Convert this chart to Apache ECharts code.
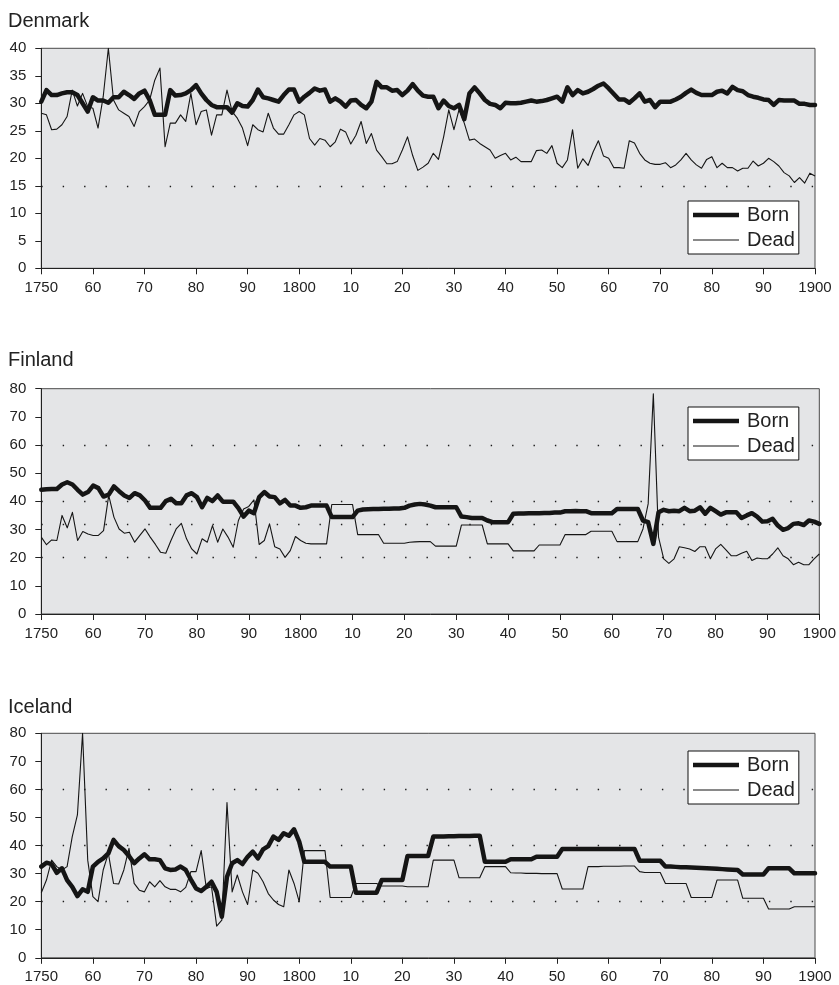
<!DOCTYPE html>
<html>
<head>
<meta charset="utf-8">
<script src="https://cdn.jsdelivr.net/npm/echarts@6/dist/echarts.min.js"></script>
<style>
  html, body { margin: 0; padding: 0; background: #ffffff; }
  #chart { width: 839px; height: 985px; }
</style>
</head>
<body>
<div id="chart"></div>
<script>
// Crude birth and death rates per 1000 inhabitants, yearly, 1750-1900
const firstYear = 1750;
const lastYear = 1900;

const countries = ['Denmark', 'Finland', 'Iceland'];
const seriesNames = ['Born', 'Dead'];

const denmarkBorn = [
  30.3, 32.4, 31.5, 31.5, 31.8, 32.0, 32.0, 31.5, 30.0, 28.5,
  31.1, 30.5, 30.5, 30.1, 31.1, 31.1, 32.1, 31.5, 30.8, 31.8,
  32.3, 30.6, 27.9, 27.9, 27.9, 32.4, 31.4, 31.5, 31.8, 32.4,
  33.3, 31.8, 30.6, 29.7, 29.3, 29.3, 29.3, 28.3, 30.0, 29.5,
  29.4, 30.6, 32.5, 31.1, 30.9, 30.6, 30.3, 31.5, 32.5, 32.5,
  30.3, 31.2, 31.9, 32.7, 32.3, 32.5, 30.3, 30.9, 30.3, 29.4,
  30.5, 30.6, 29.7, 29.1, 30.3, 33.9, 32.9, 32.9, 32.3, 32.4,
  31.5, 32.3, 33.5, 32.3, 31.4, 31.2, 31.2, 29.1, 30.5, 29.5,
  29.1, 29.7, 27.1, 31.8, 32.9, 31.8, 30.6, 29.9, 29.7, 29.1,
  30.1, 30.0, 30.0, 30.1, 30.3, 30.5, 30.3, 30.4, 30.6, 30.9,
  31.2, 30.3, 32.9, 31.5, 32.4, 31.8, 32.1, 32.6, 33.2, 33.6,
  32.7, 31.7, 30.7, 30.7, 30.1, 30.9, 31.8, 30.3, 30.6, 29.3,
  30.3, 30.3, 30.3, 30.7, 31.2, 31.9, 32.5, 31.9, 31.5, 31.5,
  31.5, 32.1, 32.3, 31.8, 33.0, 32.4, 32.2, 31.5, 31.2, 31.0,
  30.7, 30.6, 29.7, 30.6, 30.5, 30.5, 30.5, 29.9, 29.9, 29.7,
  29.7
];
const denmarkDead = [
  28.2, 27.9, 25.2, 25.3, 26.1, 27.6, 32.4, 29.5, 31.8, 29.4,
  29.1, 25.5, 31.2, 40.0, 30.6, 28.8, 28.2, 27.6, 25.8, 28.5,
  29.4, 30.6, 34.2, 36.4, 22.1, 26.4, 26.4, 27.9, 26.7, 31.8,
  26.1, 28.5, 28.8, 24.2, 27.9, 27.9, 32.4, 28.5, 27.3, 25.5,
  22.3, 26.1, 25.2, 24.8, 28.2, 25.5, 24.4, 24.4, 26.1, 27.9,
  28.5, 27.9, 23.6, 22.4, 23.6, 23.3, 22.1, 23.0, 25.3, 24.8,
  22.6, 24.2, 26.7, 22.7, 24.5, 21.5, 20.3, 19.0, 19.0, 19.4,
  21.5, 23.9, 20.5, 17.8, 18.4, 19.1, 20.9, 19.8, 23.9, 28.8,
  25.2, 28.9, 26.4, 23.3, 23.5, 22.7, 22.1, 21.5, 20.0, 20.5,
  20.9, 19.7, 20.2, 19.4, 19.4, 19.4, 21.4, 21.5, 20.9, 22.3,
  19.1, 18.3, 19.7, 25.2, 18.2, 19.9, 18.7, 21.2, 23.2, 20.4,
  20.0, 18.3, 18.3, 18.2, 23.2, 22.8, 20.9, 19.7, 19.1, 18.9,
  18.9, 19.2, 18.3, 18.8, 19.7, 20.9, 19.7, 18.8, 18.2, 19.8,
  20.3, 18.3, 19.1, 18.3, 18.3, 17.7, 18.2, 18.2, 19.5, 18.6,
  19.1, 20.0, 19.4, 18.6, 17.4, 16.8, 15.6, 16.5, 15.5, 17.3,
  16.8
];

const finlandBorn = [
  44.1, 44.3, 44.4, 44.4, 46.0, 46.8, 46.0, 44.1, 42.4, 43.3,
  45.6, 44.7, 41.7, 42.4, 45.3, 43.6, 42.1, 41.2, 42.9, 42.1,
  40.3, 37.7, 37.7, 37.7, 40.1, 40.9, 39.3, 39.3, 42.1, 42.9,
  41.5, 37.9, 41.2, 40.1, 42.1, 39.9, 39.9, 39.9, 37.6, 34.6,
  36.7, 35.8, 41.5, 43.3, 41.7, 41.5, 39.3, 40.5, 38.5, 38.5,
  37.7, 37.9, 38.5, 38.5, 38.5, 38.5, 34.4, 34.4, 34.4, 34.4,
  34.4, 36.7, 37.1, 37.2, 37.3, 37.3, 37.4, 37.4, 37.5, 37.5,
  37.7, 38.5, 38.9, 39.1, 38.9, 38.5, 37.9, 37.9, 37.9, 37.9,
  37.9, 34.6, 34.4, 34.1, 34.1, 34.1, 33.2, 32.6, 32.6, 32.6,
  32.6, 35.6, 35.7, 35.7, 35.8, 35.8, 35.8, 35.9, 35.9, 36.0,
  36.0, 36.5, 36.5, 36.6, 36.5, 36.5, 35.8, 35.8, 35.8, 35.8,
  35.8, 37.3, 37.3, 37.3, 37.3, 37.3, 33.2, 32.6, 24.9, 36.1,
  37.0, 36.5, 36.7, 36.5, 37.7, 36.5, 36.7, 37.9, 35.6, 37.7,
  36.5, 35.3, 36.1, 36.1, 36.1, 34.1, 35.0, 35.8, 34.6, 32.8,
  32.9, 33.8, 31.4, 29.9, 30.5, 32.0, 32.2, 31.6, 33.2, 32.8,
  32.0
];
const finlandDead = [
  27.3, 24.6, 26.3, 26.1, 35.0, 30.6, 36.1, 26.1, 29.3, 28.4,
  27.9, 27.9, 29.6, 42.1, 34.4, 30.2, 28.7, 29.0, 25.5, 27.9,
  30.2, 27.3, 24.7, 21.9, 21.6, 26.1, 30.2, 32.2, 26.7, 23.1,
  21.3, 26.7, 25.5, 31.4, 25.5, 30.2, 27.3, 23.7, 33.2, 37.3,
  38.2, 40.5, 24.7, 26.1, 32.0, 23.9, 23.1, 20.1, 22.5, 27.5,
  26.1, 25.1, 24.9, 24.9, 24.9, 24.9, 38.9, 38.9, 38.9, 38.9,
  38.9, 28.2, 28.2, 28.2, 28.2, 28.2, 25.1, 25.1, 25.1, 25.1,
  25.1, 25.5, 25.6, 25.7, 25.7, 25.7, 24.1, 24.1, 24.1, 24.1,
  24.1, 31.6, 31.6, 31.6, 31.6, 31.6, 24.9, 24.9, 24.9, 24.9,
  24.9, 22.4, 22.4, 22.4, 22.4, 22.4, 24.5, 24.5, 24.5, 24.5,
  24.5, 28.2, 28.2, 28.2, 28.2, 28.2, 29.4, 29.4, 29.4, 29.4,
  29.4, 25.7, 25.7, 25.7, 25.7, 25.7, 30.2, 39.1, 78.2, 27.3,
  19.6, 18.0, 19.6, 23.9, 23.5, 23.1, 22.2, 23.9, 23.9, 19.6,
  23.1, 24.7, 22.8, 20.7, 20.7, 21.6, 22.3, 19.0, 19.9, 19.6,
  19.6, 21.3, 23.5, 20.7, 19.6, 17.5, 18.4, 17.5, 17.5, 19.6,
  21.3
];

const icelandBorn = [
  32.5, 33.9, 33.4, 30.3, 31.9, 27.7, 25.3, 22.0, 24.4, 23.5,
  32.5, 34.2, 35.4, 37.2, 42.0, 39.8, 38.4, 36.3, 33.7, 35.4,
  36.9, 35.1, 35.1, 34.8, 31.9, 31.3, 31.5, 32.5, 31.3, 27.9,
  24.7, 23.8, 25.3, 27.1, 23.5, 14.6, 28.9, 33.7, 34.8, 33.4,
  36.0, 37.8, 35.4, 38.6, 39.8, 43.2, 42.0, 44.4, 43.5, 45.8,
  41.4, 34.2, 34.2, 34.2, 34.2, 34.2, 32.5, 32.5, 32.5, 32.5,
  32.5, 23.2, 23.2, 23.2, 23.2, 23.2, 27.7, 27.7, 27.7, 27.7,
  27.7, 36.3, 36.3, 36.3, 36.3, 36.3, 43.2, 43.2, 43.2, 43.3,
  43.3, 43.4, 43.4, 43.4, 43.5, 43.5, 34.2, 34.2, 34.2, 34.2,
  34.2, 35.1, 35.1, 35.1, 35.1, 35.1, 36.0, 36.0, 36.0, 36.0,
  36.0, 38.8, 38.8, 38.8, 38.8, 38.8, 38.8, 38.8, 38.8, 38.8,
  38.8, 38.8, 38.8, 38.8, 38.8, 38.8, 34.6, 34.6, 34.6, 34.6,
  34.6, 32.5, 32.5, 32.4, 32.3, 32.3, 32.2, 32.1, 32.0, 31.9,
  31.8, 31.7, 31.6, 31.5, 31.4, 31.3, 29.7, 29.7, 29.7, 29.7,
  29.7, 31.9, 31.9, 31.9, 31.9, 31.9, 30.1, 30.1, 30.1, 30.1,
  30.1
];
const icelandDead = [
  23.2, 27.7, 34.8, 32.5, 31.3, 32.5, 43.2, 50.9, 80.0, 34.8,
  21.8, 20.0, 31.3, 37.2, 26.5, 26.3, 31.3, 39.0, 26.5, 24.1,
  23.5, 27.1, 25.3, 27.5, 25.3, 24.4, 24.4, 23.5, 25.1, 30.7,
  30.7, 38.2, 24.7, 25.3, 11.3, 13.4, 55.3, 23.5, 29.5, 23.5,
  19.0, 31.3, 30.1, 27.1, 22.9, 20.6, 19.0, 18.2, 31.3, 26.5,
  20.0, 38.2, 38.2, 38.2, 38.2, 38.2, 21.5, 21.5, 21.5, 21.5,
  21.5, 26.5, 26.5, 26.5, 26.5, 26.5, 25.6, 25.6, 25.6, 25.6,
  25.6, 25.3, 25.3, 25.3, 25.3, 25.3, 34.8, 34.8, 34.8, 34.8,
  34.8, 28.5, 28.5, 28.5, 28.5, 28.5, 32.5, 32.5, 32.5, 32.5,
  32.5, 30.3, 30.2, 30.2, 30.1, 30.1, 30.1, 30.0, 30.0, 30.0,
  30.0, 24.5, 24.5, 24.5, 24.5, 24.5, 32.5, 32.5, 32.5, 32.6,
  32.6, 32.6, 32.6, 32.7, 32.7, 32.7, 30.7, 30.4, 30.4, 30.4,
  30.4, 26.5, 26.5, 26.5, 26.5, 26.5, 21.5, 21.5, 21.5, 21.5,
  21.5, 27.7, 27.7, 27.7, 27.7, 27.7, 21.2, 21.2, 21.2, 21.2,
  21.2, 17.4, 17.4, 17.4, 17.4, 17.4, 18.2, 18.2, 18.2, 18.2,
  18.2
];

// Dotted reference levels drawn across each panel
const denmarkRefLevels = [15];
const finlandRefLevels = [20, 31.7, 40, 60];
const icelandRefLevels = [20, 40, 60];

// Axis ranges
const denmarkYMax = 40, denmarkYStep = 5;
const finlandYMax = 80, finlandYStep = 10;
const icelandYMax = 80, icelandYStep = 10;
const xStep = 10;

const panelData = [
  { born: denmarkBorn, dead: denmarkDead, refs: denmarkRefLevels, yMax: denmarkYMax, yStep: denmarkYStep },
  { born: finlandBorn, dead: finlandDead, refs: finlandRefLevels, yMax: finlandYMax, yStep: finlandYStep },
  { born: icelandBorn, dead: icelandDead, refs: icelandRefLevels, yMax: icelandYMax, yStep: icelandYStep }
];

// Layout of the three panels (pixels)
const panelLayout = [
  { left: 41.3, top: 48.3, width: 773.7, height: 220, titleTop: 11, legendTop: 201 },
  { left: 41.3, top: 388.7, width: 779.4, height: 225.3, titleTop: 350.5, legendTop: 407 },
  { left: 41.3, top: 733.3, width: 773.7, height: 224.5, titleTop: 697, legendTop: 751 }
];

const FONT = "'Liberation Sans', Arial, Helvetica, sans-serif";
const TEXT_COLOR = '#222222';
const LINE_COLOR = '#151515';
const BORN_WIDTH = 4.5;
const DEAD_WIDTH = 1.1;

// Legend keys: plain line samples, thick for births and thin for deaths
const legendItems = [
  { name: seriesNames[0], icon: 'path://M0,0H46V4.5H0Z', itemStyle: { color: LINE_COLOR, borderWidth: 0 } },
  { name: seriesNames[1], icon: 'path://M0,0H46V1.2H0Z', itemStyle: { color: LINE_COLOR, borderWidth: 0 } }
];

function toPoints(values) {
  return values.map((v, i) => [firstYear + i, v]);
}

function yearLabel(v) {
  if (v === firstYear || v % 100 === 0) return String(v);
  return String(v % 100);
}

const option = {
  animation: false,
  backgroundColor: '#ffffff',
  title: countries.map((name, i) => ({
    text: name,
    left: 8,
    top: panelLayout[i].titleTop,
    padding: 0,
    textStyle: { fontFamily: FONT, fontSize: 20, fontWeight: 'normal', color: TEXT_COLOR }
  })),
  // Legends sit on their own layer so the boxes cover the dotted levels
  legend: countries.map((name, i) => ({
    data: legendItems,
    orient: 'vertical',
    left: 688,
    top: panelLayout[i].legendTop,
    padding: [3, 4, 3, 5],
    itemGap: 3,
    itemWidth: 46,
    itemHeight: 14,
    symbolKeepAspect: true,
    zlevel: 1,
    z: 10,
    backgroundColor: '#ffffff',
    borderColor: '#111111',
    borderWidth: 1,
    borderRadius: 0,
    selectedMode: false,
    textStyle: { fontFamily: FONT, fontSize: 20, color: TEXT_COLOR, lineHeight: 22, padding: [0, 0, 0, 3] }
  })),
  grid: panelLayout.map(p => ({
    left: p.left, top: p.top, width: p.width, height: p.height,
    show: true,
    backgroundColor: '#e4e5e7',
    borderColor: '#4a4a4a',
    borderWidth: 1,
    containLabel: false
  })),
  xAxis: panelLayout.map((p, i) => ({
    type: 'value',
    gridIndex: i,
    min: firstYear,
    max: lastYear,
    interval: xStep,
    axisLine: { show: true, lineStyle: { color: '#222222', width: 1 } },
    axisTick: { show: true, inside: false, length: 6, lineStyle: { color: '#222222', width: 1 } },
    axisLabel: {
      show: true, margin: 12, formatter: yearLabel,
      fontFamily: FONT, fontSize: 15, color: TEXT_COLOR,
      showMinLabel: true, showMaxLabel: true
    },
    splitLine: { show: false }
  })),
  yAxis: panelData.map((d, i) => ({
    type: 'value',
    gridIndex: i,
    min: 0,
    max: d.yMax,
    interval: d.yStep,
    axisLine: { show: true, lineStyle: { color: '#222222', width: 1 } },
    axisTick: { show: true, inside: false, length: 6, lineStyle: { color: '#222222', width: 1 } },
    axisLabel: { show: true, margin: 15, fontFamily: FONT, fontSize: 15, color: TEXT_COLOR },
    splitLine: { show: false }
  })),
  series: []
};

panelData.forEach((d, i) => {
  option.series.push({
    name: seriesNames[0],
    type: 'line',
    xAxisIndex: i,
    yAxisIndex: i,
    data: toPoints(d.born),
    symbol: 'none',
    showSymbol: false,
    smooth: false,
    z: 4,
    lineStyle: { color: LINE_COLOR, width: BORN_WIDTH, join: 'round', cap: 'round' },
    itemStyle: { color: LINE_COLOR }
  });
  option.series.push({
    name: seriesNames[1],
    type: 'line',
    xAxisIndex: i,
    yAxisIndex: i,
    data: toPoints(d.dead),
    symbol: 'none',
    showSymbol: false,
    smooth: false,
    z: 3,
    lineStyle: { color: LINE_COLOR, width: DEAD_WIDTH, join: 'round' },
    itemStyle: { color: LINE_COLOR },
    markLine: {
      silent: true,
      symbol: ['none', 'none'],
      label: { show: false },
      emphasis: { disabled: true },
      lineStyle: { color: '#1a1a1a', width: 1.4, type: [1.4, 20], cap: 'butt' },
      data: d.refs.map(v => ({ yAxis: v }))
    }
  });
});

const chart = echarts.init(document.getElementById('chart'), null, { renderer: 'canvas' });
chart.setOption(option);
</script>
</body>
</html>
